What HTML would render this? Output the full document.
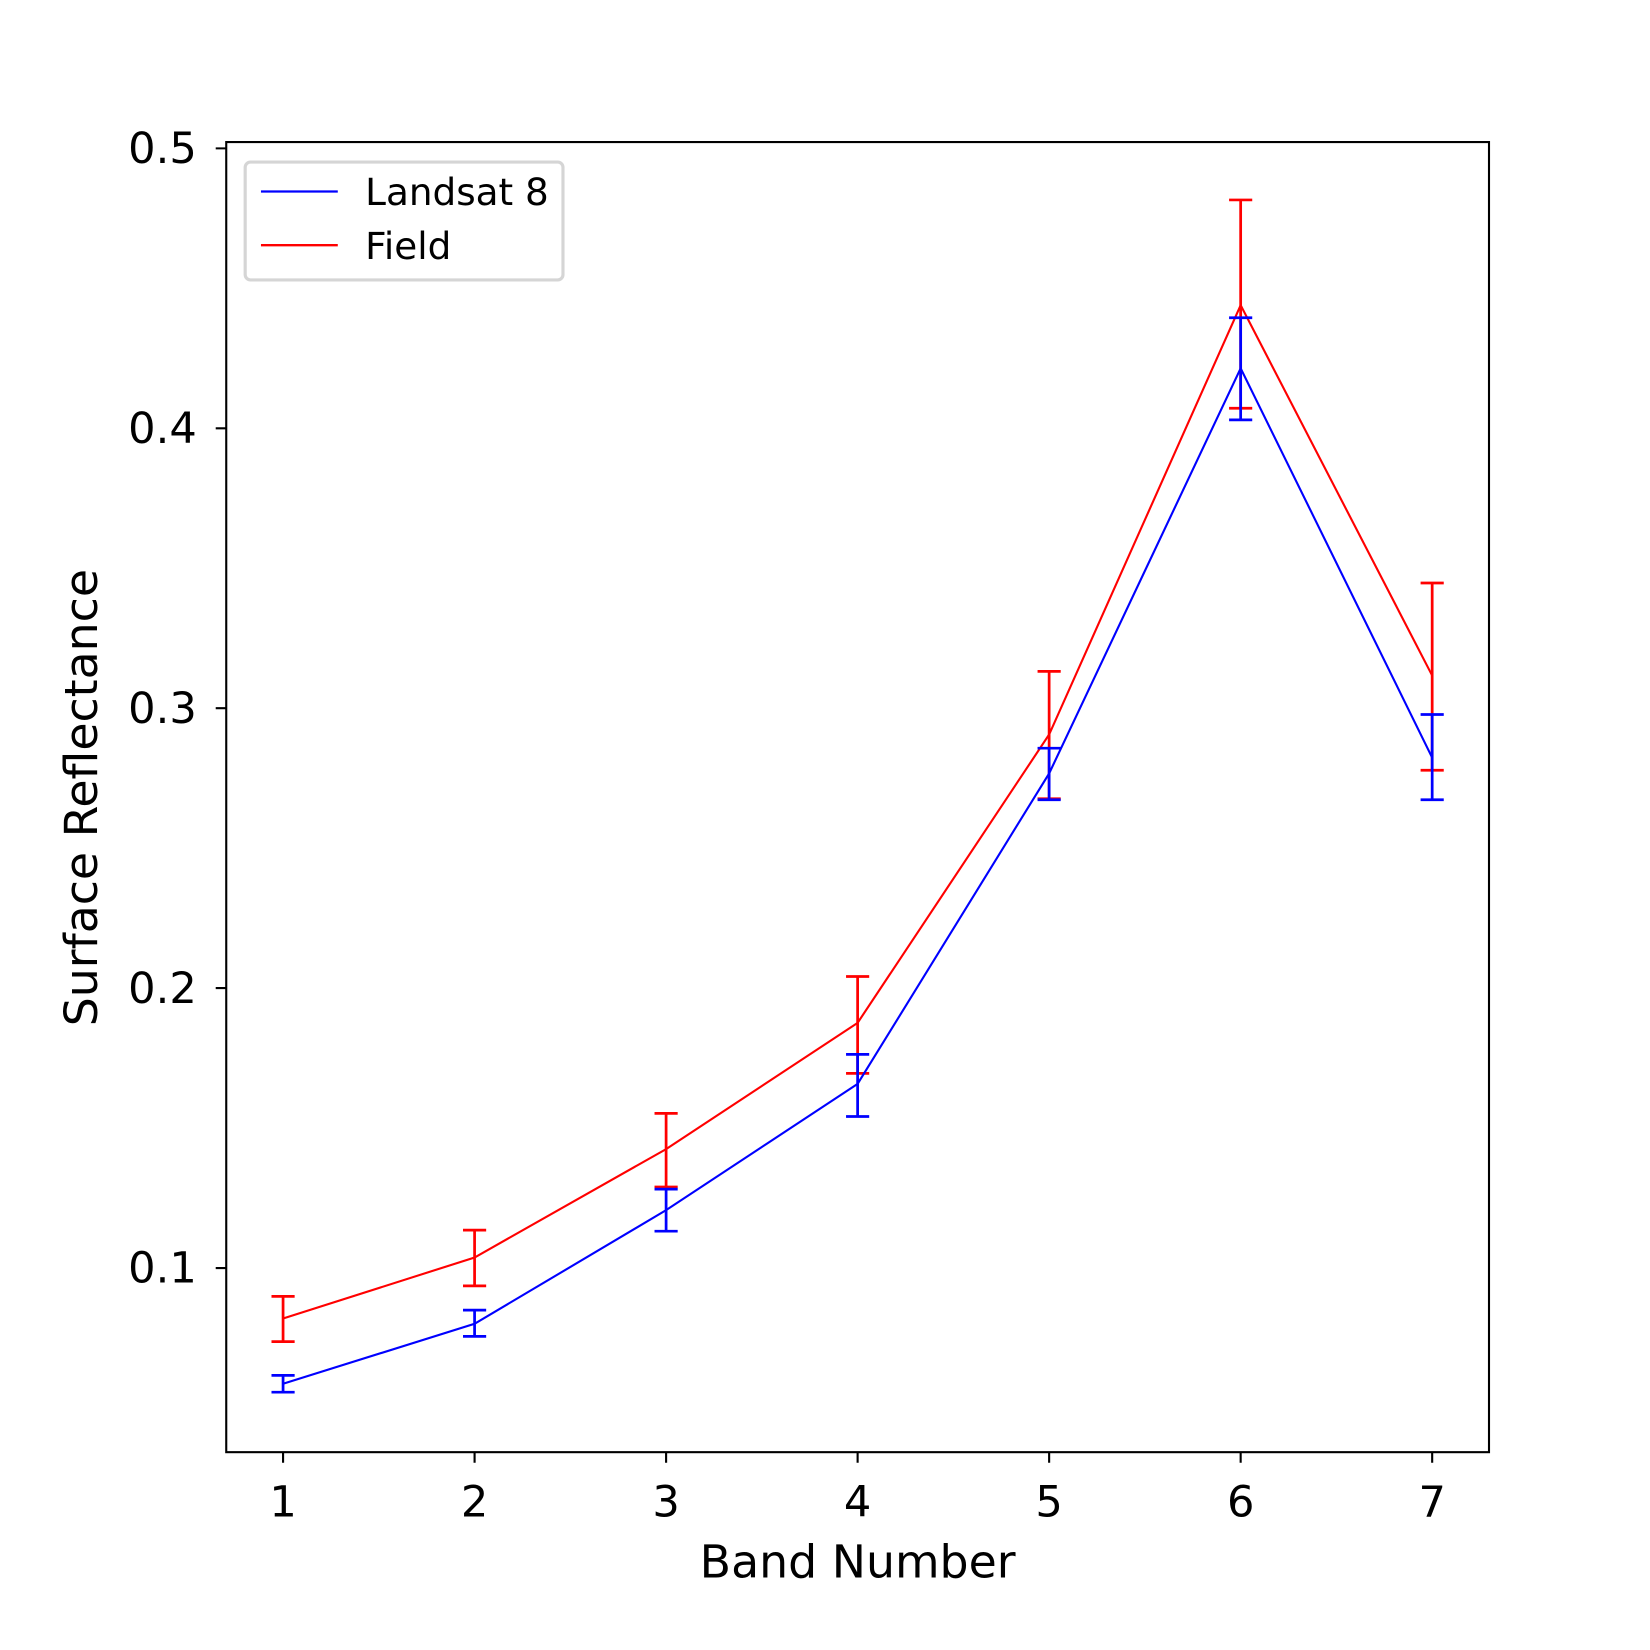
<!DOCTYPE html>
<html><head><style>html,body{margin:0;padding:0;background:#fff}svg{display:block}</style></head>
<body>
<svg width="1650" height="1650" viewBox="0 0 1568 1568" xmlns="http://www.w3.org/2000/svg" font-family="DejaVu Sans, Liberation Sans, sans-serif">
<rect width="1568" height="1568" fill="#fff"/>
<!-- Field (red) -->
<g stroke="#ff0000" fill="none">
<polyline stroke-width="2" points="269,1253 451,1195 633,1092 815,972 997,698 1179,290 1361,642"/>
<path stroke-width="2.6" d="M269,1232V1275M258,1232H280M258,1275H280
M451,1169V1222M440,1169H462M440,1222H462
M633,1058V1128M622,1058H644M622,1128H644
M815,928V1020M804,928H826M804,1020H826
M997,638V759M986,638H1008M986,759H1008
M1179,190V388M1168,190H1190M1168,388H1190
M1361,554V732M1350,554H1372M1350,732H1372"/>
</g>
<!-- Landsat (blue) -->
<g stroke="#0000ff" fill="none">
<polyline stroke-width="2" points="269,1315 451,1258 633,1150 815,1030 997,735 1179,350 1361,720"/>
<path stroke-width="2.6" d="M269,1307V1323M258,1307H280M258,1323H280
M451,1245V1270M440,1245H462M440,1270H462
M633,1130V1170M622,1130H644M622,1170H644
M815,1002V1061M804,1002H826M804,1061H826
M997,711V760M986,711H1008M986,760H1008
M1179,302V399M1168,302H1190M1168,399H1190
M1361,679V760M1350,679H1372M1350,760H1372"/>
</g>
<rect x="215" y="135" width="1200" height="1245" fill="none" stroke="#000" stroke-width="2"/>
<g stroke="#000" stroke-width="2">
<path d="M269,1380v10M451,1380v10M633,1380v10M815,1380v10M997,1380v10M1179,1380v10M1361,1380v10"/>
<path d="M215,141h-10M215,407h-10M215,673h-10M215,939h-10M215,1205h-10"/>
</g>
<g font-size="41" fill="#000" text-anchor="middle">
<text x="269" y="1441">1</text><text x="451" y="1441">2</text><text x="633" y="1441">3</text><text x="815" y="1441">4</text><text x="997" y="1441">5</text><text x="1179" y="1441">6</text><text x="1361" y="1441">7</text>
</g>
<g font-size="41" fill="#000" text-anchor="end">
<text x="187" y="155">0.5</text><text x="187" y="421">0.4</text><text x="187" y="687">0.3</text><text x="187" y="953">0.2</text><text x="187" y="1219">0.1</text>
</g>
<text x="815" y="1499" font-size="43.5" text-anchor="middle">Band Number</text>
<text transform="translate(92,758) rotate(-90)" font-size="43.5" text-anchor="middle">Surface Reflectance</text>
<rect x="233" y="154" width="302" height="112" rx="5" fill="#fff" stroke="#d5d5d5" stroke-width="3"/>
<line x1="248" y1="182" x2="321" y2="182" stroke="#0000ff" stroke-width="2.2"/>
<line x1="248" y1="233" x2="321" y2="233" stroke="#ff0000" stroke-width="2.2"/>
<text x="347" y="195" font-size="35.5">Landsat 8</text>
<text x="347" y="246" font-size="35.5">Field</text>
</svg>
</body></html>
